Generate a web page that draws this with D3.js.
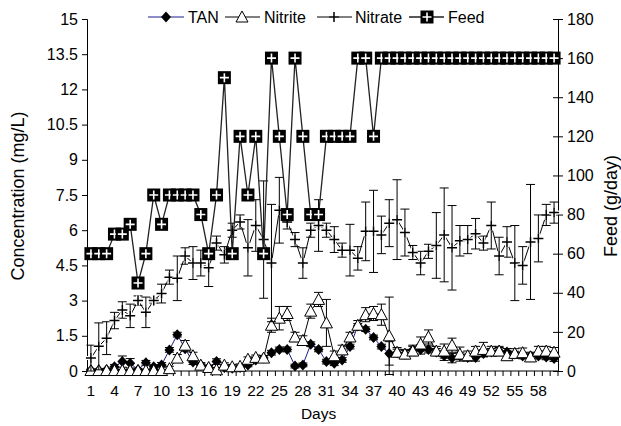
<!DOCTYPE html>
<html>
<head>
<meta charset="utf-8">
<script src="https://cdn.jsdelivr.net/npm/d3@7"></script>
<style>
  body { margin: 0; background: #fff; }
  svg { font-family: "Liberation Sans", Arial, sans-serif; }
</style>
</head>
<body>
<svg id="chart" width="621" height="426"></svg>
<script>
// days 1..60
var days = d3.range(1, 61);

var tan = [0.03,0.03,0.05,0.18,0.4,0.33,0.05,0.35,0.18,0.26,
  0.9,1.55,0.95,0.38,0.26,0.15,0.4,0.15,0.12,0.15,
  0.26,0.47,0.55,0.78,0.92,0.92,0.21,0.26,1.14,0.92,
  0.4,0.33,0.47,1.04,1.92,1.78,1.43,1.04,0.75,0.78,
  0.72,0.9,0.92,0.92,0.81,0.65,0.55,0.65,0.57,0.57,
  0.75,0.81,0.85,0.81,0.72,0.64,0.64,0.64,0.6,0.53];
var tanErr = [0.05,0.05,0.05,0.1,0.24,0.2,0.05,0.1,0.08,0.1,
  0.1,0.1,0.1,0.1,0.08,0.08,0.12,0.08,0.08,0.08,
  0.08,0.1,0.1,0.1,0.1,0.1,0.08,0.08,0.1,0.1,
  0.1,0.1,0.1,0.1,0.1,0.1,0.1,0.1,0.5,0.15,
  0.15,0.2,0.2,0.15,0.15,0.2,0.2,0.15,0.15,0.15,
  0.15,0.15,0.15,0.15,0.12,0.12,0.12,0.12,0.12,0.12];

var nitrite = [0.02,0.02,0.02,0.02,0.02,0.02,0.02,0.02,0.02,0.02,
  0.1,0.55,1.1,0.65,0.25,0.15,0.05,0.25,0.18,0.2,
  0.5,0.58,0.55,1.95,2.25,2.45,1.45,1.3,2.55,3.05,
  2.05,0.65,0.9,1.45,1.95,2.4,2.45,2.4,1.5,0.8,
  0.72,0.85,1.15,1.45,0.85,0.85,1.1,0.72,0.65,0.85,
  0.92,0.85,0.85,0.65,0.75,0.78,0.6,0.85,0.85,0.8];
var nitriteErr = [0.05,0.05,0.05,0.05,0.05,0.05,0.05,0.05,0.05,0.05,
  0.1,0.15,0.2,0.15,0.1,0.1,0.1,0.1,0.1,0.1,
  0.1,0.1,0.1,0.3,0.5,0.3,0.2,0.2,0.3,0.3,
  1.0,0.2,0.2,0.2,0.2,0.3,0.3,0.45,1.65,0.2,
  0.2,0.2,0.3,0.3,0.2,0.3,0.3,0.3,0.2,0.2,
  0.3,0.2,0.2,0.2,0.2,0.2,0.2,0.2,0.2,0.2];

var nitrate = [0.55,1.05,1.4,2.15,2.6,2.35,3.0,2.5,3.0,3.3,
  4.0,3.95,4.9,4.6,4.6,4.4,5.45,4.95,6.0,6.35,
  5.25,6.2,5.6,4.6,6.85,6.35,5.6,4.6,6.0,6.2,
  6.0,5.6,5.15,5.15,4.8,5.95,5.95,5.8,6.3,6.45,
  5.9,5.05,4.6,5.1,5.35,5.8,5.25,5.55,5.6,5.85,
  5.45,6.2,4.9,5.5,4.6,4.5,5.5,5.65,6.65,6.75];
var nitrateErr = [0.55,1.0,0.7,0.35,0.35,0.5,0.2,0.65,0.1,0.4,
  0.3,0.95,0.35,0.7,0.55,0.8,0.3,0.35,0.3,0.3,
  1.2,1.1,2.5,2.5,1.4,0.3,0.3,0.65,0.3,1.1,
  0.3,0.55,0.3,1.1,0.5,1.25,1.75,0.8,1.0,1.7,
  1.0,0.3,0.5,0.3,1.4,2.0,1.8,0.65,0.6,0.65,
  0.3,1.0,0.8,0.65,1.6,0.8,2.45,1.0,0.45,0.45];

var feed = [60,60,60,70,70,75,45,60,90,75,
  90,90,90,90,80,60,90,150,60,120,
  90,120,60,160,120,80,160,120,80,80,
  120,120,120,120,160,160,120,160,160,160,
  160,160,160,160,160,160,160,160,160,160,
  160,160,160,160,160,160,160,160,160,160];

var leftTicks = [0,1.5,3,4.5,6,7.5,9,10.5,12,13.5,15];
var rightTicks = [0,20,40,60,80,100,120,140,160,180];
var dayLabels = d3.range(1, 61, 3);

var svg = d3.select("#chart");
var plotL = 87, plotR = 558, plotT = 19, plotB = 371;

var x = d3.scaleBand().domain(days).range([plotL, plotR]).padding(0);
var y = d3.scaleLinear().domain([0, 15]).range([plotB, plotT]);
var y2 = d3.scaleLinear().domain([0, 180]).range([plotB, plotT]);
var cx = function(d) { return x(d) + x.bandwidth() / 2; };

// axes
var yAxis = svg.append("g").attr("transform", "translate(" + plotL + ",0)")
  .call(d3.axisLeft(y).tickValues(leftTicks).tickSize(5).tickPadding(4)
    .tickFormat(function(d) { return String(d); }));
var y2Axis = svg.append("g").attr("transform", "translate(" + plotR + ",0)")
  .call(d3.axisRight(y2).tickValues(rightTicks).tickSize(5).tickPadding(4));
y2Axis.selectAll(".tick line").attr("x1", -5).attr("x2", 5);

var xAxis = svg.append("g");
xAxis.append("line").attr("x1", plotL).attr("x2", plotR).attr("y1", plotB).attr("y2", plotB)
  .attr("stroke", "#000");
xAxis.selectAll("line.tk").data(d3.range(0, 61)).enter().append("line").attr("class", "tk")
  .attr("x1", function(i) { return plotL + i * x.bandwidth(); })
  .attr("x2", function(i) { return plotL + i * x.bandwidth(); })
  .attr("y1", plotB).attr("y2", plotB + 5).attr("stroke", "#000");
xAxis.selectAll("text").data(dayLabels).enter().append("text")
  .attr("x", cx).attr("y", plotB + 24.5).attr("text-anchor", "middle")
  .attr("font-size", 15.5).text(function(d) { return d; });

[yAxis, y2Axis].forEach(function(a) {
  a.selectAll("text").attr("font-size", 16).attr("fill", "#000")
    .attr("font-family", "'Liberation Sans', Arial, sans-serif");
  a.selectAll("line, path").attr("stroke", "#000");
});

svg.append("text").attr("x", cx(30)).attr("y", 419).attr("text-anchor", "middle")
  .attr("font-size", 15.5).text("Days");
svg.append("text").attr("transform", "translate(24,196) rotate(-90)").attr("text-anchor", "middle")
  .attr("font-size", 18).text("Concentration (mg/L)");
svg.append("text").attr("transform", "translate(617,206) rotate(-90)").attr("text-anchor", "middle")
  .attr("font-size", 18).text("Feed (g/day)");

// helpers
function errorBars(vals, errs, sc) {
  var g = svg.append("g").attr("stroke", "#000").attr("stroke-width", 1);
  days.forEach(function(d, i) {
    var hi = sc(vals[i] + errs[i]), lo = sc(Math.max(vals[i] - errs[i], -0.3));
    g.append("line").attr("x1", cx(d)).attr("x2", cx(d)).attr("y1", hi).attr("y2", lo);
    g.append("line").attr("x1", cx(d) - 4.5).attr("x2", cx(d) + 4.5).attr("y1", hi).attr("y2", hi);
    g.append("line").attr("x1", cx(d) - 4.5).attr("x2", cx(d) + 4.5).attr("y1", lo).attr("y2", lo);
  });
}
function seriesLine(vals, sc, color, w) {
  var line = d3.line().x(function(d, i) { return cx(days[i]); }).y(function(d) { return sc(d); });
  svg.append("path").attr("d", line(vals)).attr("fill", "none")
    .attr("stroke", color).attr("stroke-width", w);
}
function diamond(g, px, py) {
  g.append("path").attr("d", "M" + px + "," + (py - 5.5) + "L" + (px + 5) + "," + py + "L" + px + "," + (py + 5.5) + "L" + (px - 5) + "," + py + "Z")
    .attr("fill", "#000");
}
function triangle(g, px, py) {
  g.append("path").attr("d", "M" + px + "," + (py - 6) + "L" + (px + 6) + "," + (py + 5) + "L" + (px - 6) + "," + (py + 5) + "Z")
    .attr("fill", "#fff").attr("stroke", "#000").attr("stroke-width", 1);
}
function plus(g, px, py) {
  g.append("path").attr("d", "M" + (px - 5) + "," + py + "H" + (px + 5) + "M" + px + "," + (py - 5) + "V" + (py + 5))
    .attr("stroke", "#fff").attr("stroke-width", 4);
  g.append("path").attr("d", "M" + (px - 5) + "," + py + "H" + (px + 5) + "M" + px + "," + (py - 5) + "V" + (py + 5))
    .attr("stroke", "#000").attr("stroke-width", 1.5);
}
function feedBox(g, px, py) {
  g.append("rect").attr("x", px - 6.5).attr("y", py - 6.5).attr("width", 13).attr("height", 13).attr("fill", "#000");
  g.append("path").attr("d", "M" + (px - 4.5) + "," + py + "H" + (px + 4.5) + "M" + px + "," + (py - 4.5) + "V" + (py + 4.5))
    .attr("stroke", "#fff").attr("stroke-width", 1.6);
}

// TAN
errorBars(tan, tanErr, y);
seriesLine(tan, y, "#1c1c8c", 1);
var gT = svg.append("g");
days.forEach(function(d, i) { diamond(gT, cx(d), y(tan[i])); });

// Nitrite
errorBars(nitrite, nitriteErr, y);
seriesLine(nitrite, y, "#000", 1);
var gN = svg.append("g");
days.forEach(function(d, i) { triangle(gN, cx(d), y(nitrite[i])); });

// Nitrate
errorBars(nitrate, nitrateErr, y);
seriesLine(nitrate, y, "#000", 1);
var gP = svg.append("g");
days.forEach(function(d, i) { plus(gP, cx(d), y(nitrate[i])); });

// Feed
seriesLine(feed, y2, "#222", 1.3);
var gF = svg.append("g");
days.forEach(function(d, i) { feedBox(gF, cx(d), y2(feed[i])); });

// legend
var lg = svg.append("g");
var ly = 17;
lg.append("line").attr("x1", 148).attr("x2", 184).attr("y1", ly).attr("y2", ly).attr("stroke", "#1c1c8c");
diamond(lg, 166, ly);
lg.append("text").attr("x", 188).attr("y", ly + 6).attr("font-size", 16).text("TAN");
lg.append("line").attr("x1", 225).attr("x2", 260).attr("y1", ly).attr("y2", ly).attr("stroke", "#000");
triangle(lg, 242, ly);
lg.append("text").attr("x", 264).attr("y", ly + 6).attr("font-size", 16).text("Nitrite");
lg.append("line").attr("x1", 317).attr("x2", 352).attr("y1", ly).attr("y2", ly).attr("stroke", "#000");
plus(lg, 334, ly);
lg.append("text").attr("x", 355).attr("y", ly + 6).attr("font-size", 16).text("Nitrate");
lg.append("line").attr("x1", 409).attr("x2", 444).attr("y1", ly).attr("y2", ly).attr("stroke", "#222").attr("stroke-width", 1.3);
feedBox(lg, 427, ly);
lg.append("text").attr("x", 448).attr("y", ly + 6).attr("font-size", 16).text("Feed");
</script>
</body>
</html>
